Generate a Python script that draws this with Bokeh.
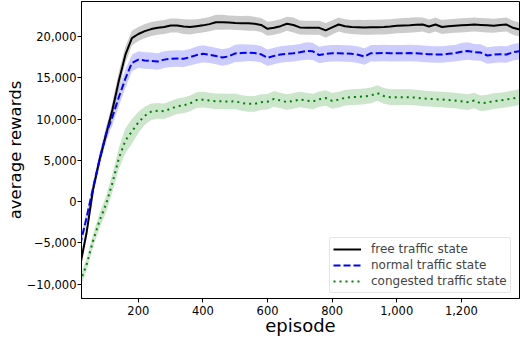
from bokeh.plotting import figure
from bokeh.models import (ColumnDataSource, FixedTicker, CustomJSTickFormatter,
                          Legend, LegendItem, Range1d)
from bokeh.embed import file_html
from bokeh.resources import INLINE

episodes = list(range(20, 1381, 20))

free_mean = [
    -7700, -3700, 1500, 5100, 8100, 11200, 14700, 17800, 19800, 20300,
    20650, 20900, 21050, 21150, 21330, 21330, 21200, 21150, 21250, 21350,
    21500, 21730, 21730, 21700, 21650, 21620, 21610, 21540, 21400, 20930,
    21050, 21250, 21550, 21400, 21100, 21050, 21050, 21050, 20750, 21100,
    21450, 21250, 21150, 21130, 21100, 21120, 21130, 21150, 21200, 21290,
    21330, 21370, 21420, 21450, 21210, 21450, 21150, 21250, 21300, 21350,
    21400, 21450, 21400, 21350, 21300, 21400, 21450, 21050, 20850]
free_std = [
    700, 600, 600, 600, 700, 900, 1100, 1000, 900, 850,
    850, 850, 850, 850, 850, 850, 900, 900, 850, 850,
    850, 900, 900, 850, 850, 850, 900, 850, 850, 850,
    850, 850, 850, 900, 850, 850, 850, 850, 900, 850,
    850, 850, 850, 900, 900, 900, 900, 900, 900, 900,
    900, 900, 900, 850, 850, 850, 850, 850, 850, 850,
    850, 850, 850, 850, 850, 850, 850, 850, 850]

normal_mean = [
    -5200, -1900, 1700, 5100, 8200, 10300, 12700, 14900, 16800, 17200,
    17100, 17050, 16970, 17200, 17300, 17330, 17300, 17500, 17750, 17900,
    17800, 17650, 17450, 17600, 17950, 18000, 18030, 18000, 17850, 17420,
    17650, 17820, 17900, 17980, 18100, 18250, 18200, 17750, 17900, 17980,
    17980, 17950, 17900, 17800, 17580, 17980, 17980, 18000, 17980, 17980,
    17980, 17990, 17980, 17900, 17860, 17830, 17820, 17900, 17980, 18150,
    18250, 18100, 18050, 17700, 17800, 17850, 17820, 18100, 18220]
normal_std = [
    700, 700, 700, 800, 900, 1000, 1100, 1100, 1000, 1000,
    1000, 1000, 1000, 1000, 1000, 1000, 1000, 1000, 1050, 1050,
    1000, 1000, 1000, 1000, 1050, 1050, 1000, 1000, 1000, 1000,
    1000, 1000, 1000, 1000, 1000, 1050, 1050, 1000, 1000, 1000,
    1000, 1000, 1000, 1000, 1000, 1000, 1000, 1000, 1000, 1000,
    1000, 1000, 1000, 1000, 1000, 1000, 1000, 1000, 1000, 1050,
    1050, 1000, 1000, 1000, 1000, 1000, 1000, 1000, 1000]

congested_mean = [
    -9700, -7600, -4700, -2300, -300, 2300, 5300, 7400, 8500, 9600,
    10400, 10900, 11000, 10950, 11250, 11550, 11650, 11900, 12300, 12350,
    12250, 12150, 12150, 12130, 12150, 11950, 11850, 11850, 12050, 12100,
    12450, 12250, 12050, 12200, 12370, 12250, 12130, 12400, 12550, 12200,
    12350, 12580, 12650, 12700, 12750, 12860, 13140, 12800, 12650, 12650,
    12650, 12650, 12600, 12500, 12460, 12400, 12370, 12300, 12250, 12150,
    12050, 12250, 11900, 12000, 12170, 12250, 12370, 12500, 12650]
congested_std = [
    700, 700, 800, 900, 1000, 1100, 1300, 1500, 1500, 1300,
    1100, 1000, 950, 950, 950, 950, 950, 950, 950, 950,
    950, 950, 950, 950, 950, 950, 950, 950, 950, 950,
    950, 950, 950, 950, 950, 950, 950, 950, 950, 950,
    950, 950, 950, 950, 950, 950, 950, 950, 950, 950,
    950, 950, 950, 950, 950, 950, 950, 950, 950, 950,
    950, 950, 950, 950, 950, 950, 950, 950, 950]

x_ticks = [200, 400, 600, 800, 1000, 1200]
y_ticks = [-10000, -5000, 0, 5000, 10000, 15000, 20000]
labels = ["free traffic state", "normal traffic state", "congested traffic state"]

FONT = "DejaVu Sans"

p = figure(width=520, height=338, output_backend="svg", toolbar_location=None,
           x_range=Range1d(24, 1380), y_range=Range1d(-11730, 24240),
           min_border_left=81, min_border_right=1, min_border_top=1,
           min_border_bottom=40)
p.background_fill_color = "white"
p.border_fill_color = "white"
p.outline_line_color = "black"
p.outline_line_width = 1
p.xgrid.visible = False
p.ygrid.visible = False

series = [
    (free_mean, free_std, "black", "solid"),
    (normal_mean, normal_std, "blue", "7 3"),
    (congested_mean, congested_std, "green", "2 4"),
]

items = []
renderers = []
for (m, s, color, dash), lab in zip(series, labels):
    src = ColumnDataSource(dict(
        x=episodes, y=m,
        lo=[a - b for a, b in zip(m, s)],
        hi=[a + b for a, b in zip(m, s)]))
    p.varea(x="x", y1="lo", y2="hi", source=src, fill_color=color, fill_alpha=0.2)
    renderers.append((src, color, dash, lab))

for src, color, dash, lab in renderers:
    r = p.line(x="x", y="y", source=src, line_color=color, line_width=2,
               line_dash=dash)
    items.append(LegendItem(label=lab, renderers=[r]))

fmt = CustomJSTickFormatter(code=r"""
const n = Math.round(Math.abs(tick));
const s = n.toString().replace(/\B(?=(\d{3})+(?!\d))/g, ",");
return (tick < 0 ? "\u2212" : "") + s;
""")

for ax in (p.xaxis[0], p.yaxis[0]):
    ax.formatter = fmt
    ax.major_label_text_font = FONT
    ax.major_label_text_font_size = "11.5px"
    ax.major_label_text_color = "black"
    ax.major_label_text_line_height = 1.0
    ax.axis_label_text_font = FONT
    ax.axis_label_text_font_style = "normal"
    ax.axis_label_text_color = "black"
    ax.axis_label_text_line_height = 1.0
    ax.minor_tick_line_color = None
    ax.major_tick_in = 0
    ax.major_tick_out = 4
    ax.major_tick_line_color = "black"
    ax.axis_line_color = "black"

p.xaxis.ticker = FixedTicker(ticks=x_ticks)
p.yaxis.ticker = FixedTicker(ticks=y_ticks)
p.xaxis.axis_label = "episode"
p.yaxis.axis_label = "average rewards"
p.xaxis.axis_label_text_font_size = "18px"
p.yaxis.axis_label_text_font_size = "16.5px"
p.xaxis.major_label_standoff = 3
p.yaxis.major_label_standoff = 1
p.xaxis.axis_label_standoff = -3
p.yaxis.axis_label_standoff = -1

legend = Legend(items=items, location=(248, 5))
legend.margin = 0
legend.padding = 3
legend.spacing = 0
legend.label_height = 16
legend.glyph_height = 16
legend.glyph_width = 28
legend.label_standoff = 10
legend.label_text_font = FONT
legend.label_text_font_size = "12px"
legend.border_line_color = "#cccccc"
legend.border_line_width = 1
legend.border_radius = 3
legend.background_fill_alpha = 0.8
p.add_layout(legend)

open("out.html", "w").write(file_html(p, INLINE))
